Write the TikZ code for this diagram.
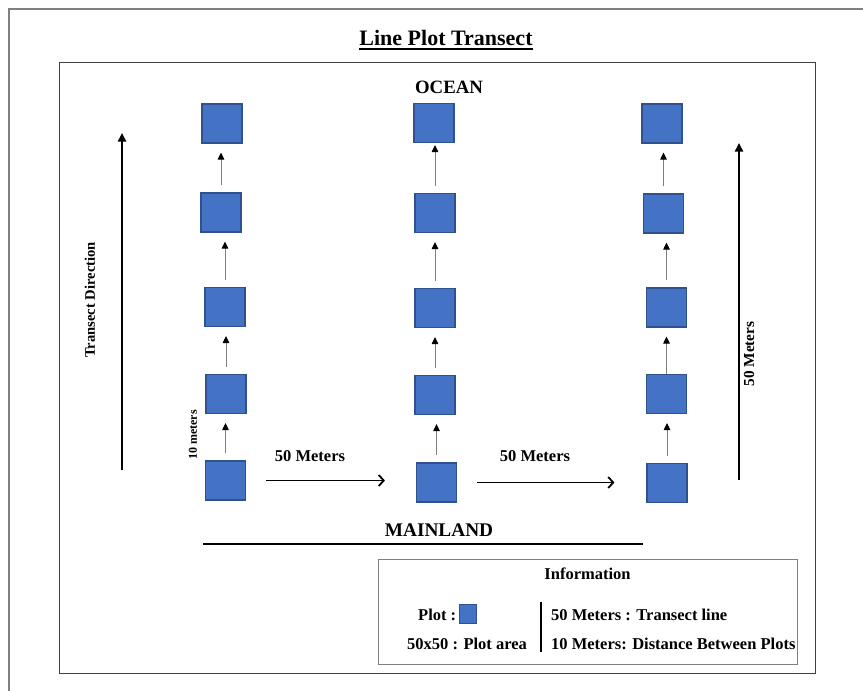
\documentclass[tikz,border=0pt]{standalone}
\usepackage{fontspec}
\setmainfont{Liberation Serif}
\usepackage{tikz}
\usetikzlibrary{arrows.meta}
\definecolor{plotblue}{HTML}{4472C4}
\definecolor{plotedge}{HTML}{2F528F}

\begin{document}
\begin{tikzpicture}[x=1pt,y=-1pt,
  plotsq/.style={draw=plotedge,fill=plotblue,line width=1.1pt,minimum width=40pt,minimum height=39pt,inner sep=0pt},
  uparrow/.style={draw=black!50,line width=1pt,-{Triangle[black,width=6.5pt,length=7pt]},shorten <=7pt,shorten >=9pt},
  walkarrow/.style={line width=1.8pt,-{Straight Barb[length=5pt,width=11pt,line width=1.8pt]}},
  bigarrow/.style={line width=1.9pt,-{Triangle[width=8pt,length=8.5pt]}},
  lbl/.style={inner sep=0pt,font=\bfseries\fontsize{16.5}{18}\selectfont}]
  \useasboundingbox (0,0) rectangle (863,691);
  \fill[white] (0,0) rectangle (863,691);
  \draw[black!50,line width=1.3pt] (9,9) rectangle (880,710);
  \draw[black!75,line width=1pt] (59,62) rectangle (815,673);
  \node[lbl,anchor=base,font=\bfseries\fontsize{22}{24}\selectfont] (title) at (446,45) {Line Plot Transect};
  \draw[line width=1.6pt] ([yshift=-4pt]title.base west) -- ([yshift=-4pt]title.base east);
  \node[lbl,anchor=base,font=\bfseries\fontsize{18.8}{20}\selectfont] (ocean) at (449,93) {OCEAN};
  \node[lbl,anchor=base,font=\bfseries\fontsize{19.3}{20}\selectfont] (mainland) at (439,536) {MAINLAND};
  \node[plotsq] (l1) at (225.5,480.5) {};
  \node[plotsq] (l2) at (226,394) {};
  \node[plotsq] (l3) at (225,307) {};
  \node[plotsq] (l4) at (221,212.5) {};
  \node[plotsq] (l5) at (222,123.5) {};
  \node[plotsq] (m1) at (436.5,482.5) {};
  \node[plotsq] (m2) at (435,395) {};
  \node[plotsq] (m3) at (435,308) {};
  \node[plotsq] (m4) at (435,213) {};
  \node[plotsq] (m5) at (434,123) {};
  \node[plotsq] (r1) at (667,483) {};
  \node[plotsq] (r2) at (666.5,394) {};
  \node[plotsq] (r3) at (666.5,307.5) {};
  \node[plotsq] (r4) at (663.5,213.5) {};
  \node[plotsq] (r5) at (662,123.5) {};
  \draw[uparrow] (l1.north) -- (l1.north |- l2.south);
  \draw[uparrow] (l2.north) -- (l2.north |- l3.south);
  \draw[uparrow] (l3.north) -- (l3.north |- l4.south);
  \draw[uparrow] (l4.north) -- (l4.north |- l5.south);
  \draw[uparrow] (m1.north) -- (m1.north |- m2.south);
  \draw[uparrow] (m2.north) -- (m2.north |- m3.south);
  \draw[uparrow] (m3.north) -- (m3.north |- m4.south);
  \draw[uparrow,shorten >=2pt] (m4.north) -- (m4.north |- m5.south);
  \draw[uparrow] (r1.north) -- (r1.north |- r2.south);
  \draw[uparrow,shorten <=0pt] (r2.north) -- (r2.north |- r3.south);
  \draw[uparrow] (r3.north) -- (r3.north |- r4.south);
  \draw[uparrow] (r4.north) -- (r4.north |- r5.south);
  \draw[walkarrow,shorten <=20pt,shorten >=31pt] (l1.east) -- (l1.east -| m1.west);
  \draw[walkarrow,shorten <=20pt,shorten >=32pt] (m1.east) -- (m1.east -| r1.west);
  \node[lbl,anchor=base] (walk1) at (310,461) {50 Meters};
  \node[lbl,anchor=base] (walk2) at (535,461) {50 Meters};
  \coordinate (dirfrom) at (122,470);
  \coordinate (dirto) at (122,133);
  \draw[bigarrow] (dirfrom) -- (dirto);
  \node[lbl,rotate=90,font=\bfseries\fontsize{14.6}{16}\selectfont] (direction) at (90,300) {Transect Direction};
  \coordinate (lenfrom) at (739,480);
  \coordinate (lento) at (739,143);
  \draw[bigarrow] (lenfrom) -- (lento);
  \node[lbl,rotate=90,font=\bfseries\fontsize{15.3}{16}\selectfont] (length) at (749,354) {50 Meters};
  \node[lbl,rotate=90,font=\bfseries\fontsize{12}{14}\selectfont] (gap) at (193,435) {10 meters};
  \coordinate (landw) at (203,544);
  \coordinate (lande) at (643,544);
  \draw[line width=1.6pt] (landw) -- (lande);
  \draw[black!50,line width=1pt] (378,559) rectangle (797,664);
  \node[lbl,anchor=base] (info) at (587.5,579) {Information};
  \node[lbl,anchor=base west] (plotkey) at (418,620) {Plot :};
  \node[draw=plotedge,fill=plotblue,line width=0.8pt,minimum width=17pt,minimum height=19pt,inner sep=0pt] (keysq) at (467.5,613.5) {};
  \node[lbl,anchor=base west] (area) at (407,649) {50x50 : Plot area};
  \coordinate (divtop) at (541,602);
  \coordinate (divbot) at (541,652);
  \draw[line width=1.5pt] (divtop) -- (divbot);
  \node[lbl,anchor=base west] (transect) at (551,620) {50 Meters : Transect line};
  \node[lbl,anchor=base west] (spacing) at (551,649) {10 Meters: Distance Between Plots};
\end{tikzpicture}
\end{document}
